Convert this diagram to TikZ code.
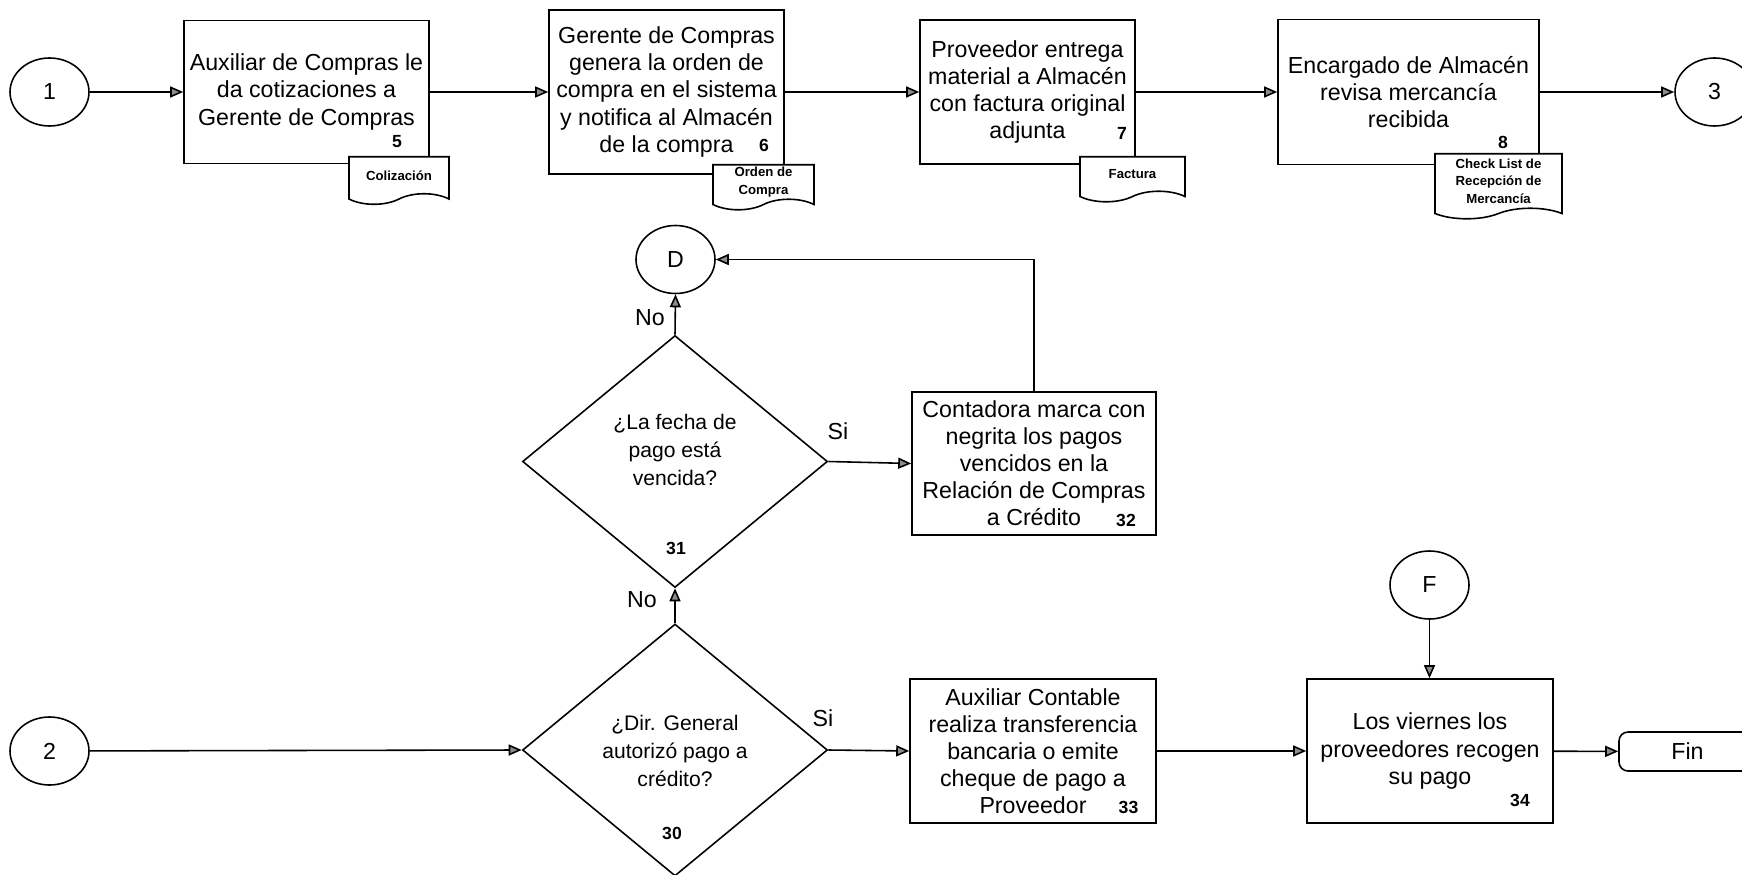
\documentclass[tikz,border=0pt]{standalone}
\usepackage{fontspec}
\setmainfont{Liberation Sans}
\usetikzlibrary{arrows.meta,shapes.geometric,shapes.symbols}

\begin{document}
\begin{tikzpicture}[>={Triangle[length=0.26cm,width=0.22cm,fill=black!45]},line width=0.9pt,
	proc/.style={draw, rectangle, align=center, inner sep=1pt, font=\fontsize{13.2}{15.4}\selectfont},
	conn/.style={draw, ellipse, minimum width=1.58cm, minimum height=1.36cm, inner sep=0pt, font=\fontsize{13.2}{15.4}\selectfont},
	deci/.style={draw, diamond, minimum width=6.1cm, minimum height=5.04cm, inner sep=0pt},
	ask/.style={align=center, font=\fontsize{12}{15.8}\selectfont},
	doc/.style={draw, tape, tape bend top=none, tape bend height=6pt, fill=white, align=center, inner sep=1pt, font=\fontsize{7.5}{10}\selectfont\bfseries},
	num/.style={font=\fontsize{10}{12}\selectfont\bfseries},
	lbl/.style={font=\fontsize{13.2}{15.4}\selectfont}]

	\useasboundingbox (0,0) rectangle (34.84,-17.5);

	% compras: fila de arriba
	\node [conn] (c1) at (0.99,-1.84) {1};
	\node [proc, minimum width=4.9cm, minimum height=2.86cm] (b5) at (6.13,-1.84)
		{Auxiliar de Compras le\\da cotizaciones a\\Gerente de Compras};
	\node [proc, minimum width=4.7cm, minimum height=3.28cm] (b6) at (13.33,-1.84)
		{Gerente de Compras\\genera la orden de\\compra en el sistema\\y notifica al Almacén\\de la compra};
	\node [proc, minimum width=4.3cm, minimum height=2.88cm] (b7) at (20.55,-1.84)
		{Proveedor entrega\\material a Almacén\\con factura original\\adjunta};
	\node [proc, minimum width=5.22cm, minimum height=2.9cm] (b8) at (28.17,-1.84)
		{Encargado de Almacén\\revisa mercancía\\recibida};
	\node [conn] (c3) at (34.29,-1.84) {3};

	\node [num] (n5) at (7.94,-2.84) {5};
	\node [num] (n6) at (15.28,-2.91) {6};
	\node [num] (n7) at (22.44,-2.67) {7};
	\node [num] (n8) at (30.06,-2.84) {8};

	\node [doc, anchor=north, minimum width=2.0cm, minimum height=0.95cm] (doc5) at (7.98,-3.12) {Colización};
	\node [doc, anchor=north, minimum width=2.02cm, minimum height=0.9cm] (doc6) at (15.27,-3.28) {Orden de\\Compra};
	\node [doc, anchor=north, minimum width=2.1cm, minimum height=0.9cm] (doc7) at (22.65,-3.12) {Factura};
	\node [doc, anchor=north, minimum width=2.54cm, minimum height=1.3cm] (doc8) at (29.97,-3.06) {Check List de\\Recepción de\\Mercancía};

	\draw [->] (c1) -- (b5);
	\draw [->] (b5) -- (b6);
	\draw [->] (b6) -- (b7);
	\draw [->] (b7) -- (b8);
	\draw [->] (b8) -- (c3);

	% pago a credito
	\node [conn] (cD) at (13.51,-5.19) {D};
	\node [deci] (d31) at (13.5,-9.23) {};
	\node [ask] (q31) at (13.5,-9.0) {¿La fecha de\\pago está\\vencida?};
	\node [num] (n31) at (13.52,-10.96) {31};
	\node [proc, minimum width=4.88cm, minimum height=2.86cm] (b32) at (20.68,-9.27)
		{Contadora marca con\\negrita los pagos\\vencidos en la\\Relación de Compras\\a Crédito};
	\node [num] (n32) at (22.52,-10.4) {32};

	\node [conn] (c2) at (0.99,-15.02) {2};
	\node [deci] (d30) at (13.5,-15.0) {};
	\node [ask] (q30) at (13.5,-15.02) {¿Dir. General\\autorizó pago a\\crédito?};
	\node [num] (n30) at (13.44,-16.66) {30};
	\node [proc, minimum width=4.92cm, minimum height=2.88cm] (b33) at (20.66,-15.02)
		{Auxiliar Contable\\realiza transferencia\\bancaria o emite\\cheque de pago a\\Proveedor};
	\node [num] (n33) at (22.57,-16.14) {33};
	\node [conn] (cF) at (28.59,-11.7) {F};
	\node [proc, minimum width=4.92cm, minimum height=2.88cm] (b34) at (28.6,-15.02)
		{Los viernes los\\proveedores recogen\\su pago};
	\node [num] (n34) at (30.4,-16.0) {34};
	\node [draw, rounded corners=0.18cm, minimum width=2.74cm, minimum height=0.78cm, lbl] (fin) at (33.75,-15.03) {Fin};

	\node [lbl] (no31) at (13.0,-6.36) {No};
	\node [lbl] (si31) at (16.76,-8.62) {Si};
	\node [lbl] (no30) at (12.84,-12.0) {No};
	\node [lbl] (si30) at (16.46,-14.36) {Si};

	\draw [->] (d31.north) -- (cD.south);
	\draw [->] (d31.east) -- (b32.west);
	\draw [->] (b32.north) |- (cD.east);
	\draw [->] (c2) -- (d30.west);
	\draw [->] (d30.north) -- (d31.south);
	\draw [->] (d30.east) -- (b33.west);
	\draw [->] (b33) -- (b34);
	\draw [->] (cF.south) -- (cF.south |- b34.north);
	\draw [->] (b34) -- (fin);

\end{tikzpicture}
\end{document}
